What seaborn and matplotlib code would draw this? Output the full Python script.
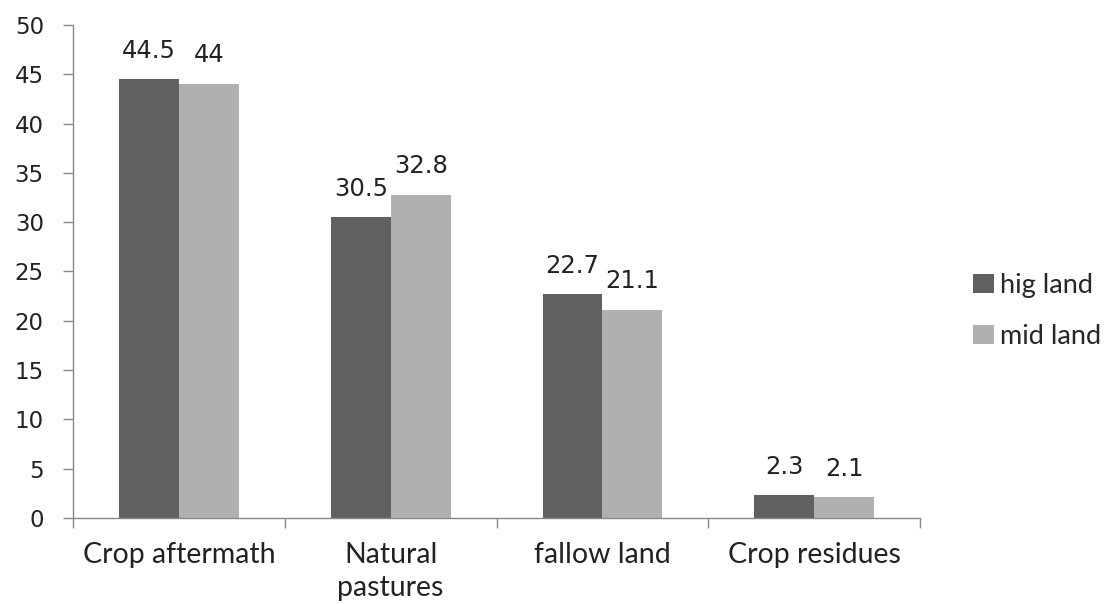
import pandas as pd
import numpy as np
import matplotlib
matplotlib.use("Agg")
import matplotlib.pyplot as plt
import seaborn as sns

categories = ["Crop aftermath", "Natural\npastures", "fallow land", "Crop residues"]
hig_land = [44.5, 30.5, 22.7, 2.3]
mid_land = [44, 32.8, 21.1, 2.1]
series = ["hig land", "mid land"]
colors = ["#606060", "#b0b0b0"]

df = pd.DataFrame({
    "category": categories * 2,
    "value": hig_land + mid_land,
    "series": [series[0]] * 4 + [series[1]] * 4,
})

sns.set_style("white")
plt.rcParams['font.family'] = ['DejaVu Sans']

fig = plt.figure(figsize=(11.11, 6.04), dpi=100)
ax = fig.add_axes([0.0657, 0.1424, 0.7625, 0.8162])

sns.barplot(data=df, x="category", y="value", hue="series", palette=colors,
            width=0.566, saturation=1, ax=ax, errorbar=None, linewidth=0)

for cont in ax.containers:
    labels = [f"{v:g}" for v in cont.datavalues]
    ax.bar_label(cont, labels=labels, padding=12, fontsize=17.5, color="#222222")

ax.set_ylim(0, 50)
ax.set_xlim(-0.5, 3.5)
ax.set_yticks(np.arange(0, 51, 5))
ax.set_xlabel("")
ax.set_ylabel("")

ax.tick_params(axis="y", labelsize=16.5, length=7, width=1, color="#888888",
               direction="out", pad=14, left=True, labelcolor="#222222")
ax.tick_params(axis="x", which="major", length=0, pad=17)
for lab in ax.get_xticklabels():
    lab.set_fontfamily(["Lato", "DejaVu Sans"])
    lab.set_fontsize(20.5)
    lab.set_color("#222222")
    lab.set_linespacing(1.33)
ax.set_xticks(np.arange(-0.5, 3.6, 1), minor=True)
ax.tick_params(axis="x", which="minor", length=7, width=1, color="#888888",
               direction="out", bottom=True)

for side in ["top", "right"]:
    ax.spines[side].set_visible(False)
for side in ["left", "bottom"]:
    ax.spines[side].set_color("#888888")
    ax.spines[side].set_linewidth(1)

leg = ax.legend(loc="center left", bbox_to_anchor=(1.0626, 0.42), frameon=False,
                prop={"family": ["Lato", "DejaVu Sans"], "size": 19.5},
                handlelength=0.77, handleheight=0.7, handletextpad=0.23,
                labelspacing=0.95, borderpad=0, borderaxespad=0)

fig.savefig("out.png", dpi=100)
